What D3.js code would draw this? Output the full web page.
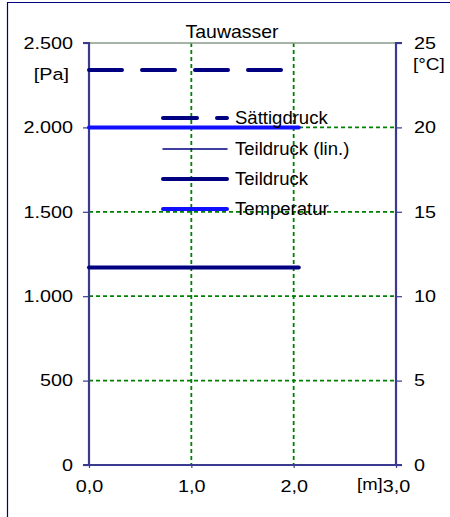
<!DOCTYPE html>
<html>
<head>
<meta charset="utf-8">
<script src="https://cdn.jsdelivr.net/npm/d3@7"></script>
<style>
  body { margin: 0; background: #fff; }
  svg { display: block; font-family: "Liberation Sans", Arial, sans-serif; }
</style>
</head>
<body>
<svg id="chart" width="450" height="517"></svg>
<script>
// Layer positions along the component [m]
const positions = [0, 2.05];
// Pressures [Pa]
const saettigdruck = [2340, 2340];
const teildruckLin = [1170, 1170];
const teildruck = [1170, 1170];
// Temperature [°C]
const temperatur = [20, 20];

const xTicks = [0, 1, 2, 3];
const xTickLabels = ["0,0", "1,0", "2,0", "3,0"];
const yTicks = [0, 500, 1000, 1500, 2000, 2500];
const yTickLabels = ["0", "500", "1.000", "1.500", "2.000", "2.500"];
const y2Ticks = [0, 5, 10, 15, 20, 25];
const y2TickLabels = ["0", "5", "10", "15", "20", "25"];
const legendLabels = ["Sättigdruck", "Teildruck (lin.)", "Teildruck", "Temperatur"];

const svg = d3.select("#chart");
const plotL = 89, plotR = 396, plotT = 43, plotB = 465;

const x = d3.scaleLinear().domain([0, 3]).range([plotL, plotR]);
const y = d3.scaleLinear().domain([0, 2500]).range([plotB, plotT]);
const y2 = d3.scaleLinear().domain([0, 25]).range([plotB, plotT]);

// widened text: horizontal stretch applied around the text's own origin
function label(parent, tx, ty, str, size, sx, anchor) {
  return parent.append("text")
    .attr("transform", `translate(${tx},${ty}) scale(${sx},1)`)
    .attr("text-anchor", anchor || "start")
    .attr("font-size", size).attr("fill", "#000").text(str);
}
function stretchTicks(g, sx) {
  g.selectAll(".tick text").each(function () {
    const t = d3.select(this);
    const tx = +t.attr("x") || 0;
    t.attr("x", tx / sx).attr("transform", `scale(${sx},1)`);
  });
}

// outer frame (left and top edges)
svg.append("path")
  .attr("d", `M7.5,517 V2.5 H450`)
  .attr("fill", "none").attr("stroke", "#000080").attr("stroke-width", 1.2);

// title
label(svg, 232, 38, "Tauwasser", 18, 1.08, "middle");

// grid lines
const grid = svg.append("g").attr("stroke", "#008000").attr("stroke-width", 1.8)
  .attr("stroke-dasharray", "4,3").attr("fill", "none");
[1, 2].forEach(v => grid.append("line").attr("x1", x(v)).attr("x2", x(v)).attr("y1", plotT).attr("y2", plotB));
[500, 1000, 1500, 2000].forEach(v => grid.append("line").attr("x1", plotL).attr("x2", plotR).attr("y1", y(v)).attr("y2", y(v)));
svg.append("line").attr("x1", plotL).attr("x2", plotR).attr("y1", plotT).attr("y2", plotT)
  .attr("stroke", "#8a9a8a").attr("stroke-width", 1.5);

// axes
const axisColor = "#3a3a90";
const gl = svg.append("g").attr("transform", `translate(${plotL},0)`)
  .call(d3.axisLeft(y).tickValues(yTicks).tickFormat((d, i) => yTickLabels[i]).tickSize(6).tickPadding(10));
const gr = svg.append("g").attr("transform", `translate(${plotR},0)`)
  .call(d3.axisRight(y2).tickValues(y2Ticks).tickFormat((d, i) => y2TickLabels[i]).tickSize(6).tickPadding(12));
const gb = svg.append("g").attr("transform", `translate(0,${plotB})`)
  .call(d3.axisBottom(x).tickValues(xTicks).tickFormat((d, i) => xTickLabels[i]).tickSize(3).tickPadding(12));
[gl, gr, gb].forEach(g => {
  g.select(".domain").attr("stroke", axisColor).attr("stroke-width", 2.2);
  g.selectAll(".tick line").attr("stroke", axisColor).attr("stroke-width", 1.2);
  g.selectAll(".tick text").attr("font-size", 16.5).attr("fill", "#000")
    .attr("font-family", "Liberation Sans, Arial, sans-serif");
  stretchTicks(g, 1.2);
});
gl.select(".domain").attr("d", `M-6,${plotT}H0V${plotB}H-6`);
gr.select(".domain").attr("d", `M6,${plotT}H0V${plotB}H6`);
gb.select(".domain").attr("d", `M${plotL},0H${plotR}`);

// unit labels
label(svg, 69, 80, "[Pa]", 16.5, 1.2, "end");
label(svg, 413, 70, "[°C]", 16.5, 1.15);
label(svg, 357, 490, "[m]", 16.5, 1.12);

// series
const line = (ys) => d3.line().x((d, i) => x(positions[i])).y(d => ys(d));
const series = [
  { vals: saettigdruck, sc: y, color: "#000080", w: 4, dash: "33,20" },
  { vals: teildruckLin, sc: y, color: "#000080", w: 1.5, dash: null },
  { vals: teildruck, sc: y, color: "#000080", w: 4, dash: null },
  { vals: temperatur, sc: y2, color: "#1010ff", w: 4, dash: null }
];
series.forEach(s => {
  svg.append("path").datum(s.vals).attr("d", line(s.sc))
    .attr("fill", "none").attr("stroke", s.color).attr("stroke-width", s.w)
    .attr("stroke-linecap", "round").attr("stroke-dasharray", s.dash);
});

// legend
const legendY = [118, 149, 179, 209];
series.forEach((s, i) => {
  const g = svg.append("g");
  g.append("line").attr("x1", 163).attr("x2", 227).attr("y1", legendY[i]).attr("y2", legendY[i])
    .attr("stroke", s.color).attr("stroke-width", s.w).attr("stroke-linecap", "round")
    .attr("stroke-dasharray", s.dash ? "34,20" : null);
  label(g, 235, legendY[i] + 6, legendLabels[i], 17.5, 1.06);
});
</script>
</body>
</html>
